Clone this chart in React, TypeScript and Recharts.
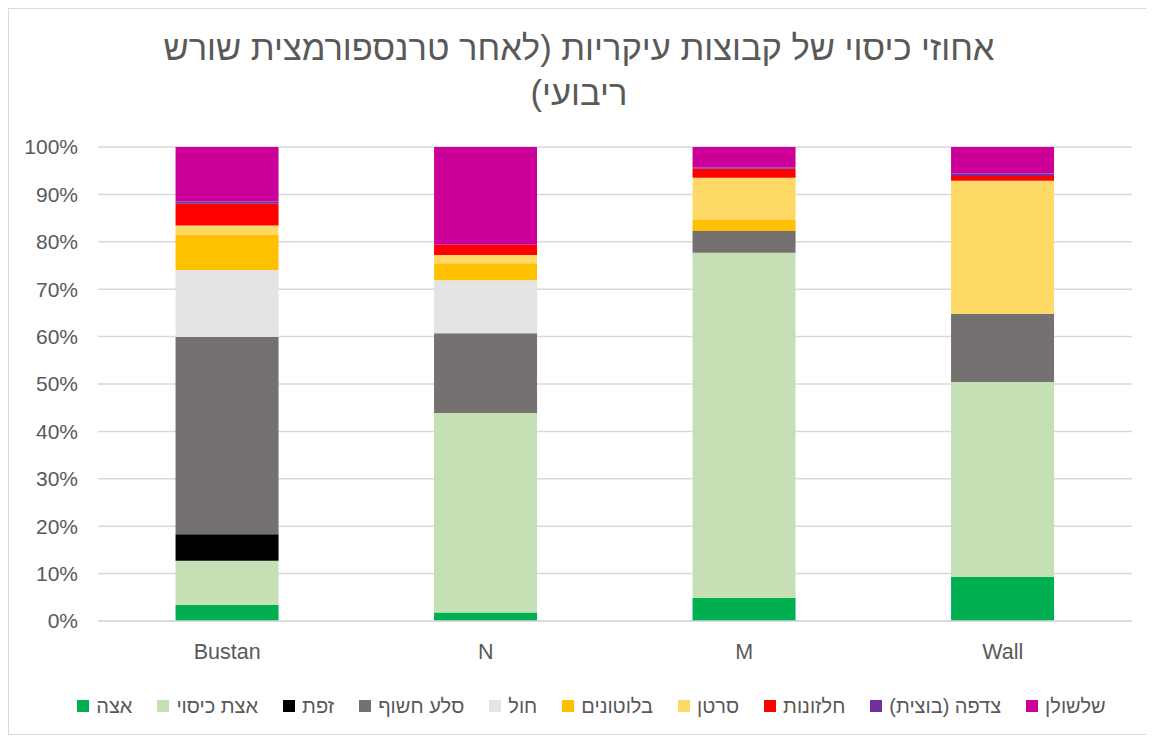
import React from 'react';
import { BarChart, Bar, XAxis, YAxis, CartesianGrid, Legend } from 'recharts';

const categories = ['Bustan', 'N', 'M', 'Wall'];
const seriesNames = ['אצה', 'אצת כיסוי', 'זפת', 'סלע חשוף', 'חול', 'בלוטונים', 'סרטן', 'חלזונות', 'צדפה (בוצית)', 'שלשולן'];
const seriesColors = ['#00B050', '#C5E0B4', '#000000', '#767171', '#E4E4E4', '#FFC000', '#FFD966', '#FF0000', '#7030A0', '#CC0099'];

// percentages per category (Bustan, N, M, Wall)
const algae = [3.4, 1.8, 4.9, 9.3];
const coverAlgae = [9.3, 42.1, 72.8, 41.1];
const tar = [5.6, 0, 0, 0];
const bareRock = [41.7, 16.8, 4.6, 14.4];
const sand = [14.1, 11.2, 0, 0];
const barnacles = [7.4, 3.6, 2.3, 0];
const crabs = [2.0, 1.7, 8.9, 28.1];
const snails = [4.6, 2.1, 1.9, 1.0];
const mussels = [0.5, 0.1, 0.3, 0.5];
const worms = [11.5, 20.6, 4.3, 5.6];

const yTicks = [0, 0.1, 0.2, 0.3, 0.4, 0.5, 0.6, 0.7, 0.8, 0.9, 1];

const seriesValues = [algae, coverAlgae, tar, bareRock, sand, barnacles, crabs, snails, mussels, worms];

const data = categories.map((name, i) => {
  const row: any = { name };
  seriesValues.forEach((vals, s) => {
    row['s' + s] = vals[i];
  });
  return row;
});

const FONT = '"Liberation Sans", Arial, sans-serif';
const TEXT = '#595959';

const renderLegend = () => (
  <div
    style={{
      height: 68,
      boxSizing: 'border-box',
      paddingTop: 28,
      paddingLeft: 42,
      display: 'flex',
      justifyContent: 'center',
      alignItems: 'flex-start',
      gap: 25,
      fontFamily: FONT,
      fontSize: 20,
      lineHeight: '24px',
      color: TEXT,
    }}
  >
    {seriesNames.map((n, i) => (
      <div key={n} style={{ display: 'flex', alignItems: 'center', gap: 7 }}>
        <span style={{ width: 12, height: 12, background: seriesColors[i], display: 'inline-block' }} />
        <span dir="rtl">{n}</span>
      </div>
    ))}
  </div>
);

export default function App() {
  return (
    <div
      style={{
        position: 'relative',
        width: 1140,
        height: 725,
        border: '1px solid #d9d9d9',
        background: '#fff',
      }}
    >
      <div
        dir="rtl"
        style={{
          position: 'absolute',
          top: 17,
          left: 0,
          width: 1140,
          textAlign: 'center',
          fontFamily: FONT,
          fontSize: 34.5,
          lineHeight: '45px',
          color: TEXT,
        }}
      >
        אחוזי כיסוי של קבוצות עיקריות (לאחר טרנספורמצית שורש
        <br />
        ריבועי)
      </div>
      <BarChart
        width={1140}
        height={725}
        data={data}
        stackOffset="expand"
        barCategoryGap="30%"
        margin={{ top: 138, right: 17, left: 0, bottom: 0 }}
      >
        <CartesianGrid vertical={false} stroke="#d9d9d9" strokeWidth={1.5} />
        <XAxis
          dataKey="name"
          axisLine={{ stroke: '#d9d9d9', strokeWidth: 1.5 }}
          tickLine={false}
          tickMargin={17}
          height={45}
          tick={{ fill: TEXT, fontSize: 21.5, fontFamily: FONT }}
        />
        <YAxis
          width={89}
          domain={[0, 1]}
          ticks={yTicks}
          axisLine={false}
          tickLine={false}
          tickMargin={14}
          tickFormatter={(v: number) => `${Math.round(v * 100)}%`}
          tick={{ fill: TEXT, fontSize: 21, fontFamily: FONT }}
        />
        <Legend verticalAlign="bottom" height={68} content={renderLegend} />
        {seriesNames.map((n, i) => (
          <Bar
            key={n}
            dataKey={'s' + i}
            name={n}
            stackId="a"
            fill={seriesColors[i]}
            isAnimationActive={false}
          />
        ))}
      </BarChart>
    </div>
  );
}
